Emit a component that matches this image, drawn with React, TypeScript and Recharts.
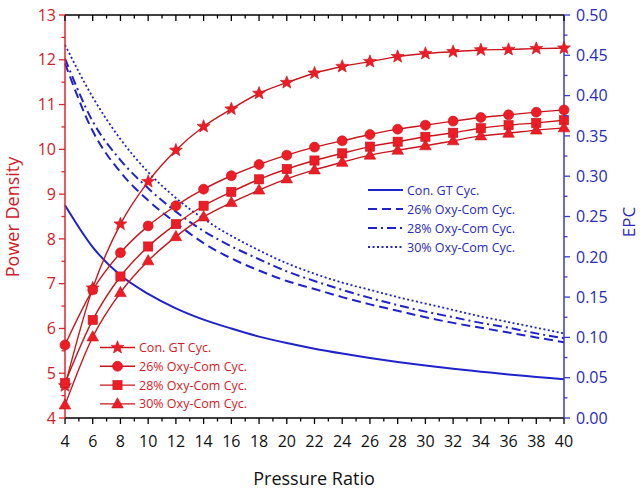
import React from 'react';
import { ComposedChart, Line, XAxis, YAxis } from 'recharts';

document.body.style.margin = '0';

// Pressure ratio (x axis)
const pressureRatio = [4, 6, 8, 10, 12, 14, 16, 18, 20, 22, 24, 26, 28, 30, 32, 34, 36, 38, 40];

// Power Density (left axis)
const pdConGT = [4.72, 6.9, 8.33, 9.28, 9.98, 10.51, 10.9, 11.25, 11.49, 11.7, 11.85, 11.96, 12.07, 12.14, 12.18, 12.22, 12.23, 12.25, 12.26];
const pd26 = [5.63, 6.86, 7.69, 8.29, 8.74, 9.11, 9.41, 9.66, 9.87, 10.05, 10.19, 10.33, 10.45, 10.54, 10.63, 10.71, 10.77, 10.83, 10.88];
const pd28 = [4.78, 6.19, 7.16, 7.83, 8.33, 8.74, 9.05, 9.33, 9.56, 9.75, 9.91, 10.06, 10.17, 10.28, 10.37, 10.47, 10.54, 10.59, 10.65];
const pd30 = [4.29, 5.81, 6.8, 7.51, 8.05, 8.49, 8.81, 9.09, 9.34, 9.54, 9.71, 9.87, 9.98, 10.08, 10.19, 10.3, 10.36, 10.43, 10.48];

// EPC (right axis)
const epcConGT = [0.264, 0.212, 0.177, 0.154, 0.136, 0.122, 0.111, 0.101, 0.093, 0.086, 0.08, 0.0745, 0.0695, 0.065, 0.061, 0.0575, 0.054, 0.051, 0.048];
const epc26 = [0.44, 0.356, 0.305, 0.27, 0.242, 0.217, 0.198, 0.183, 0.17, 0.16, 0.15, 0.141, 0.133, 0.125, 0.118, 0.112, 0.106, 0.1, 0.094];
const epc28 = [0.446, 0.368, 0.32, 0.285, 0.256, 0.232, 0.213, 0.197, 0.182, 0.17, 0.159, 0.149, 0.14, 0.132, 0.125, 0.118, 0.112, 0.105, 0.099];
const epc30 = [0.463, 0.398, 0.346, 0.305, 0.273, 0.247, 0.226, 0.208, 0.192, 0.179, 0.168, 0.159, 0.15, 0.142, 0.134, 0.126, 0.119, 0.112, 0.105];

// tick labels
const xMajorTicks = [4, 6, 8, 10, 12, 14, 16, 18, 20, 22, 24, 26, 28, 30, 32, 34, 36, 38, 40];
const leftMajorTicks = [4, 5, 6, 7, 8, 9, 10, 11, 12, 13];
const rightMajorTicks = [0, 0.05, 0.1, 0.15, 0.2, 0.25, 0.3, 0.35, 0.4, 0.45, 0.5];

const withMinor = (major: number[]) =>
  major.flatMap((v, i) => (i === 0 ? [v] : [(v + major[i - 1]) / 2, v]));

const chartData = pressureRatio.map((pr, i) => ({
  pr,
  pdConGT: pdConGT[i],
  pd26: pd26[i],
  pd28: pd28[i],
  pd30: pd30[i],
  epcConGT: epcConGT[i],
  epc26: epc26[i],
  epc28: epc28[i],
  epc30: epc30[i],
}));

const redSeries = [
  { key: 'pdConGT', name: 'Con. GT Cyc.', marker: 'star' },
  { key: 'pd26', name: '26% Oxy-Com Cyc.', marker: 'circle' },
  { key: 'pd28', name: '28% Oxy-Com Cyc.', marker: 'square' },
  { key: 'pd30', name: '30% Oxy-Com Cyc.', marker: 'triangle' },
];

const blueSeries = [
  { key: 'epcConGT', name: 'Con. GT Cyc.', dash: undefined, width: 2 },
  { key: 'epc26', name: '26% Oxy-Com Cyc.', dash: '9 5', width: 2 },
  { key: 'epc28', name: '28% Oxy-Com Cyc.', dash: '9 4 2 4', width: 2 },
  { key: 'epc30', name: '30% Oxy-Com Cyc.', dash: '2 2.5', width: 1.8 },
];

const RED_LINE = '#c8161e';
const RED_MARK = '#ee1d25';
const RED_AXIS = '#e2232c';
const RED_TEXT = '#d01c2a';
const BLUE_LINE = '#1f23c9';
const BLUE_AXIS = '#3a3ac6';
const BLUE_TEXT = '#2a2ab8';
const FONT = '"Open Sans", sans-serif';

const PLOT = { left: 65, right: 564, top: 15, bottom: 418 };

const Marker = ({ shape, cx, cy }: { shape: string; cx: number; cy: number }) => {
  const common = { fill: RED_MARK, stroke: '#c4121c', strokeWidth: 0.6 };
  if (shape === 'circle') return <circle cx={cx} cy={cy} r={5} {...common} />;
  if (shape === 'square') return <rect x={cx - 4.6} y={cy - 4.6} width={9.2} height={9.2} {...common} />;
  if (shape === 'triangle') {
    const pts = `${cx},${cy - 6.2} ${cx + 5.8},${cy + 4} ${cx - 5.8},${cy + 4}`;
    return <polygon points={pts} {...common} />;
  }
  const pts = Array.from({ length: 10 }, (_, i) => {
    const a = (-90 + i * 36) * (Math.PI / 180);
    const r = i % 2 === 0 ? 6.8 : 2.9;
    return `${cx + r * Math.cos(a)},${cy + r * Math.sin(a)}`;
  }).join(' ');
  return <polygon points={pts} {...common} />;
};

const LeftTick = (props: any) => {
  const { y, payload } = props;
  const major = leftMajorTicks.includes(payload.value);
  return (
    <g>
      <line x1={PLOT.left} x2={PLOT.left - (major ? 6 : 3.5)} y1={y} y2={y} stroke={RED_AXIS} strokeWidth={1.3} />
      {major && (
        <text x={PLOT.left - 9} y={y + 5.7} textAnchor="end" fill={RED_TEXT} fontSize={16} fontFamily={FONT}>
          {payload.value}
        </text>
      )}
    </g>
  );
};

const RightTick = (props: any) => {
  const { y, payload } = props;
  const major = rightMajorTicks.includes(payload.value);
  return (
    <g>
      <line x1={PLOT.right} x2={PLOT.right + (major ? 6 : 3.5)} y1={y} y2={y} stroke={BLUE_AXIS} strokeWidth={1.3} />
      {major && (
        <text x={PLOT.right + 12} y={y + 5.7} textAnchor="start" fill={BLUE_TEXT} fontSize={16} fontFamily={FONT}>
          {payload.value.toFixed(2)}
        </text>
      )}
    </g>
  );
};

const BottomTick = (props: any) => {
  const { x, payload } = props;
  const major = xMajorTicks.includes(payload.value);
  return (
    <g>
      <line x1={x} x2={x} y1={PLOT.bottom} y2={PLOT.bottom + (major ? 6 : 3.5)} stroke="#000" strokeWidth={1.3} />
      {major && (
        <text x={x} y={PLOT.bottom + 29} textAnchor="middle" fill="#111" fontSize={16} fontFamily={FONT}>
          {payload.value}
        </text>
      )}
    </g>
  );
};

const TopTick = (props: any) => {
  const { x, payload } = props;
  const major = xMajorTicks.includes(payload.value);
  return <line x1={x} x2={x} y1={PLOT.top} y2={PLOT.top + (major ? 6 : 3.5)} stroke="#000" strokeWidth={1.3} />;
};

const LegendOverlay = () => (
  <svg width={640} height={489} style={{ position: 'absolute', left: 0, top: 0, pointerEvents: 'none' }}>
    {/* blue (EPC) legend */}
    {blueSeries.map((s, i) => {
      const y = 190 + i * 19;
      return (
        <g key={s.key}>
          <line x1={368} x2={403} y1={y} y2={y} stroke={BLUE_LINE} strokeWidth={s.width} strokeDasharray={s.dash} />
          <text x={407} y={y + 4.5} fill={BLUE_TEXT} fontSize={12.5} fontFamily={FONT}>
            {s.name}
          </text>
        </g>
      );
    })}
    {/* red (power density) legend */}
    {redSeries.map((s, i) => {
      const y = 347.5 + i * 18.8;
      return (
        <g key={s.key}>
          <line x1={100} x2={135} y1={y} y2={y} stroke={RED_LINE} strokeWidth={1.4} />
          <Marker shape={s.marker} cx={117.5} cy={y} />
          <text x={139} y={y + 4.5} fill={RED_TEXT} fontSize={12.5} fontFamily={FONT}>
            {s.name}
          </text>
        </g>
      );
    })}
    <text x={19} y={217} transform="rotate(-90 19 217)" textAnchor="middle" fill={RED_TEXT} fontSize={18} fontFamily={FONT}>
      Power Density
    </text>
    <text x={635} y={222} transform="rotate(-90 635 222)" textAnchor="middle" fill={BLUE_TEXT} fontSize={17} fontFamily={FONT}>
      EPC
    </text>
    <text x={314} y={485} textAnchor="middle" fill="#111" fontSize={18} fontFamily={FONT}>
      Pressure Ratio
    </text>
  </svg>
);

export default function App() {
  return (
    <div style={{ position: 'relative', width: 640, height: 489, background: '#fff' }}>
      <ComposedChart
        width={640}
        height={489}
        data={chartData}
        margin={{ top: PLOT.top - 1, right: 0, bottom: 0, left: 0 }}
      >
        <XAxis
          xAxisId="bottom"
          dataKey="pr"
          type="number"
          domain={[4, 40]}
          ticks={withMinor(xMajorTicks)}
          interval={0}
          height={489 - PLOT.bottom}
          axisLine={{ stroke: '#000', strokeWidth: 1.3 }}
          tickLine={false}
          tick={<BottomTick />}
        />
        <XAxis
          xAxisId="top"
          orientation="top"
          dataKey="pr"
          type="number"
          domain={[4, 40]}
          ticks={withMinor(xMajorTicks)}
          interval={0}
          height={1}
          axisLine={{ stroke: '#000', strokeWidth: 1.3 }}
          tickLine={false}
          tick={<TopTick />}
        />
        <YAxis
          yAxisId="left"
          type="number"
          domain={[4, 13]}
          ticks={withMinor(leftMajorTicks)}
          interval={0}
          width={PLOT.left}
          axisLine={{ stroke: RED_AXIS, strokeWidth: 1.5 }}
          tickLine={false}
          tick={<LeftTick />}
        />
        <YAxis
          yAxisId="right"
          orientation="right"
          type="number"
          domain={[0, 0.5]}
          ticks={withMinor(rightMajorTicks)}
          interval={0}
          width={640 - PLOT.right}
          axisLine={{ stroke: BLUE_AXIS, strokeWidth: 1.5 }}
          tickLine={false}
          tick={<RightTick />}
        />
        {blueSeries.map((s) => (
          <Line
            key={s.key}
            xAxisId="bottom"
            yAxisId="right"
            dataKey={s.key}
            name={s.name}
            type="monotone"
            stroke={BLUE_LINE}
            strokeWidth={s.width}
            strokeDasharray={s.dash}
            dot={false}
            activeDot={false}
            isAnimationActive={false}
          />
        ))}
        {redSeries.map((s) => (
          <Line
            key={s.key}
            xAxisId="bottom"
            yAxisId="left"
            dataKey={s.key}
            name={s.name}
            type="monotone"
            stroke={RED_LINE}
            strokeWidth={1.4}
            dot={(p: any) => <Marker key={`${s.key}-${p.index}`} shape={s.marker} cx={p.cx} cy={p.cy} />}
            activeDot={false}
            isAnimationActive={false}
          />
        ))}
      </ComposedChart>
      <LegendOverlay />
    </div>
  );
}
